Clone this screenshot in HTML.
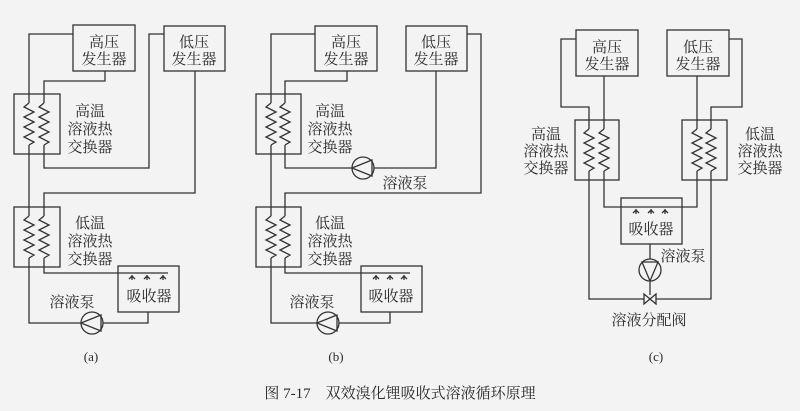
<!DOCTYPE html>
<html><head><meta charset="utf-8"><style>
html,body{margin:0;padding:0;background:#f3f3f3;}
svg{display:block}
text{font-family:"Liberation Serif","Noto Serif CJK SC","Noto Sans CJK SC",serif;fill:#2a2a2a;font-size:15px;text-anchor:middle}
.l{fill:none;stroke:#333;stroke-width:1.3}
</style></head><body>
<svg width="800" height="411" viewBox="0 0 800 411" xmlns="http://www.w3.org/2000/svg">
<defs>
<path id="zz" d="M0,0 l-5,4 l10,5 l-10,5 l10,5 l-10,5 l10,5 l-10,5 l10,5 l-5,3" class="l"/>
<path id="nz" d="M0,0 v5 M-3,4 L0,1 L3,4" class="l" stroke-width="1"/>
</defs>

<!-- ===== (a) ===== -->
<g class="l">
<rect x="73" y="25" width="62" height="46"/>
<rect x="164" y="26" width="61" height="45"/>
<rect x="14" y="94" width="46" height="60"/>
<rect x="14" y="207" width="46" height="60"/>
<rect x="118" y="266" width="61" height="46"/>
<polyline points="73,34 29,34 29,103"/>
<polyline points="29,145 29,216"/>
<polyline points="29,258 29,323 81,323"/>
<polyline points="105,71 105,81 44,81 44,103"/>
<polyline points="44,145 44,168 149,168 149,34 164,34"/>
<polyline points="195,71 195,193 44,193 44,216"/>
<polyline points="44,258 44,273 168,273"/>
<polyline points="148,312 148,323 103,323"/>
<circle cx="92" cy="323" r="11"/>
<polygon points="81,323 101,315 101,331"/>
</g>
<use href="#zz" x="29" y="103"/><use href="#zz" x="44" y="103"/>
<use href="#zz" x="29" y="216"/><use href="#zz" x="44" y="216"/>
<use href="#nz" x="132" y="275"/><use href="#nz" x="147" y="275"/><use href="#nz" x="163" y="275"/>
<text x="104" y="47">高压</text><text x="104" y="64">发生器</text>
<text x="194" y="47">低压</text><text x="194" y="64">发生器</text>
<text x="90" y="116">高温</text><text x="90" y="134">溶液热</text><text x="90" y="152">交换器</text>
<text x="90" y="228">低温</text><text x="90" y="246">溶液热</text><text x="90" y="264">交换器</text>
<text x="149" y="301">吸收器</text>
<text x="72" y="307">溶液泵</text>
<text x="91" y="361" style="font-size:13px">(a)</text>

<!-- ===== (b) ===== -->
<g class="l">
<rect x="315" y="26" width="62" height="45"/>
<rect x="406" y="26" width="61" height="45"/>
<rect x="256" y="94" width="45" height="60"/>
<rect x="256" y="207" width="45" height="60"/>
<rect x="361" y="266" width="61" height="46"/>
<polyline points="315,34 271,34 271,103"/>
<polyline points="271,145 271,216"/>
<polyline points="271,258 271,323 317,323"/>
<polyline points="347,71 347,81 285,81 285,103"/>
<polyline points="285,145 285,168 352,168"/>
<polyline points="374,168 436,168 436,71"/>
<polyline points="467,34 481,34 481,193 285,193 285,216"/>
<polyline points="285,258 285,273 410,273"/>
<polyline points="390,312 390,323 339,323"/>
<circle cx="363" cy="168" r="11"/>
<polygon points="352,168 372,160 372,176"/>
<circle cx="328" cy="323" r="11"/>
<polygon points="317,323 337,315 337,331"/>
</g>
<use href="#zz" x="271" y="103"/><use href="#zz" x="285" y="103"/>
<use href="#zz" x="271" y="216"/><use href="#zz" x="285" y="216"/>
<use href="#nz" x="376" y="275"/><use href="#nz" x="390" y="275"/><use href="#nz" x="404" y="275"/>
<text x="346" y="47">高压</text><text x="346" y="64">发生器</text>
<text x="436" y="47">低压</text><text x="436" y="64">发生器</text>
<text x="330" y="116">高温</text><text x="330" y="134">溶液热</text><text x="330" y="152">交换器</text>
<text x="330" y="228">低温</text><text x="330" y="246">溶液热</text><text x="330" y="264">交换器</text>
<text x="391" y="301">吸收器</text>
<text x="312" y="307">溶液泵</text>
<text x="405" y="188">溶液泵</text>
<text x="336" y="361" style="font-size:13px">(b)</text>

<!-- ===== (c) ===== -->
<g class="l">
<rect x="576" y="30" width="62" height="46"/>
<rect x="667" y="30" width="62" height="46"/>
<rect x="575" y="120" width="44" height="60"/>
<rect x="682" y="120" width="45" height="60"/>
<rect x="621" y="198" width="61" height="46"/>
<polyline points="576,39 561,39 561,107 589,107 589,129"/>
<polyline points="604,76 604,129"/>
<polyline points="697,76 697,129"/>
<polyline points="729,39 742,39 742,107 711,107 711,129"/>
<polyline points="589,171 589,299 644,299"/>
<polyline points="711,171 711,299 656,299"/>
<polyline points="604,171 604,207 697,207 697,171"/>
<polyline points="650,244 650,259"/>
<polyline points="650,281 650,295"/>
<circle cx="650" cy="270" r="11"/>
<polygon points="650,281 642,262 658,262"/>
<polygon points="644,294 650,299 644,304"/>
<polygon points="656,294 650,299 656,304"/>
</g>
<use href="#zz" x="589" y="129"/><use href="#zz" x="604" y="129"/>
<use href="#zz" x="697" y="129"/><use href="#zz" x="711" y="129"/>
<use href="#nz" x="636" y="209"/><use href="#nz" x="651" y="209"/><use href="#nz" x="665" y="209"/>
<text x="607" y="52">高压</text><text x="607" y="69">发生器</text>
<text x="698" y="52">低压</text><text x="698" y="69">发生器</text>
<text x="546" y="139">高温</text><text x="546" y="156">溶液热</text><text x="546" y="173">交换器</text>
<text x="760" y="139">低温</text><text x="760" y="156">溶液热</text><text x="760" y="173">交换器</text>
<text x="651" y="234">吸收器</text>
<text x="683" y="261">溶液泵</text>
<text x="649" y="325">溶液分配阀</text>
<text x="656" y="361" style="font-size:13px">(c)</text>

<text x="400" y="398" style="font-size:15px">图 7-17　双效溴化锂吸收式溶液循环原理</text>
</svg>
</body></html>
